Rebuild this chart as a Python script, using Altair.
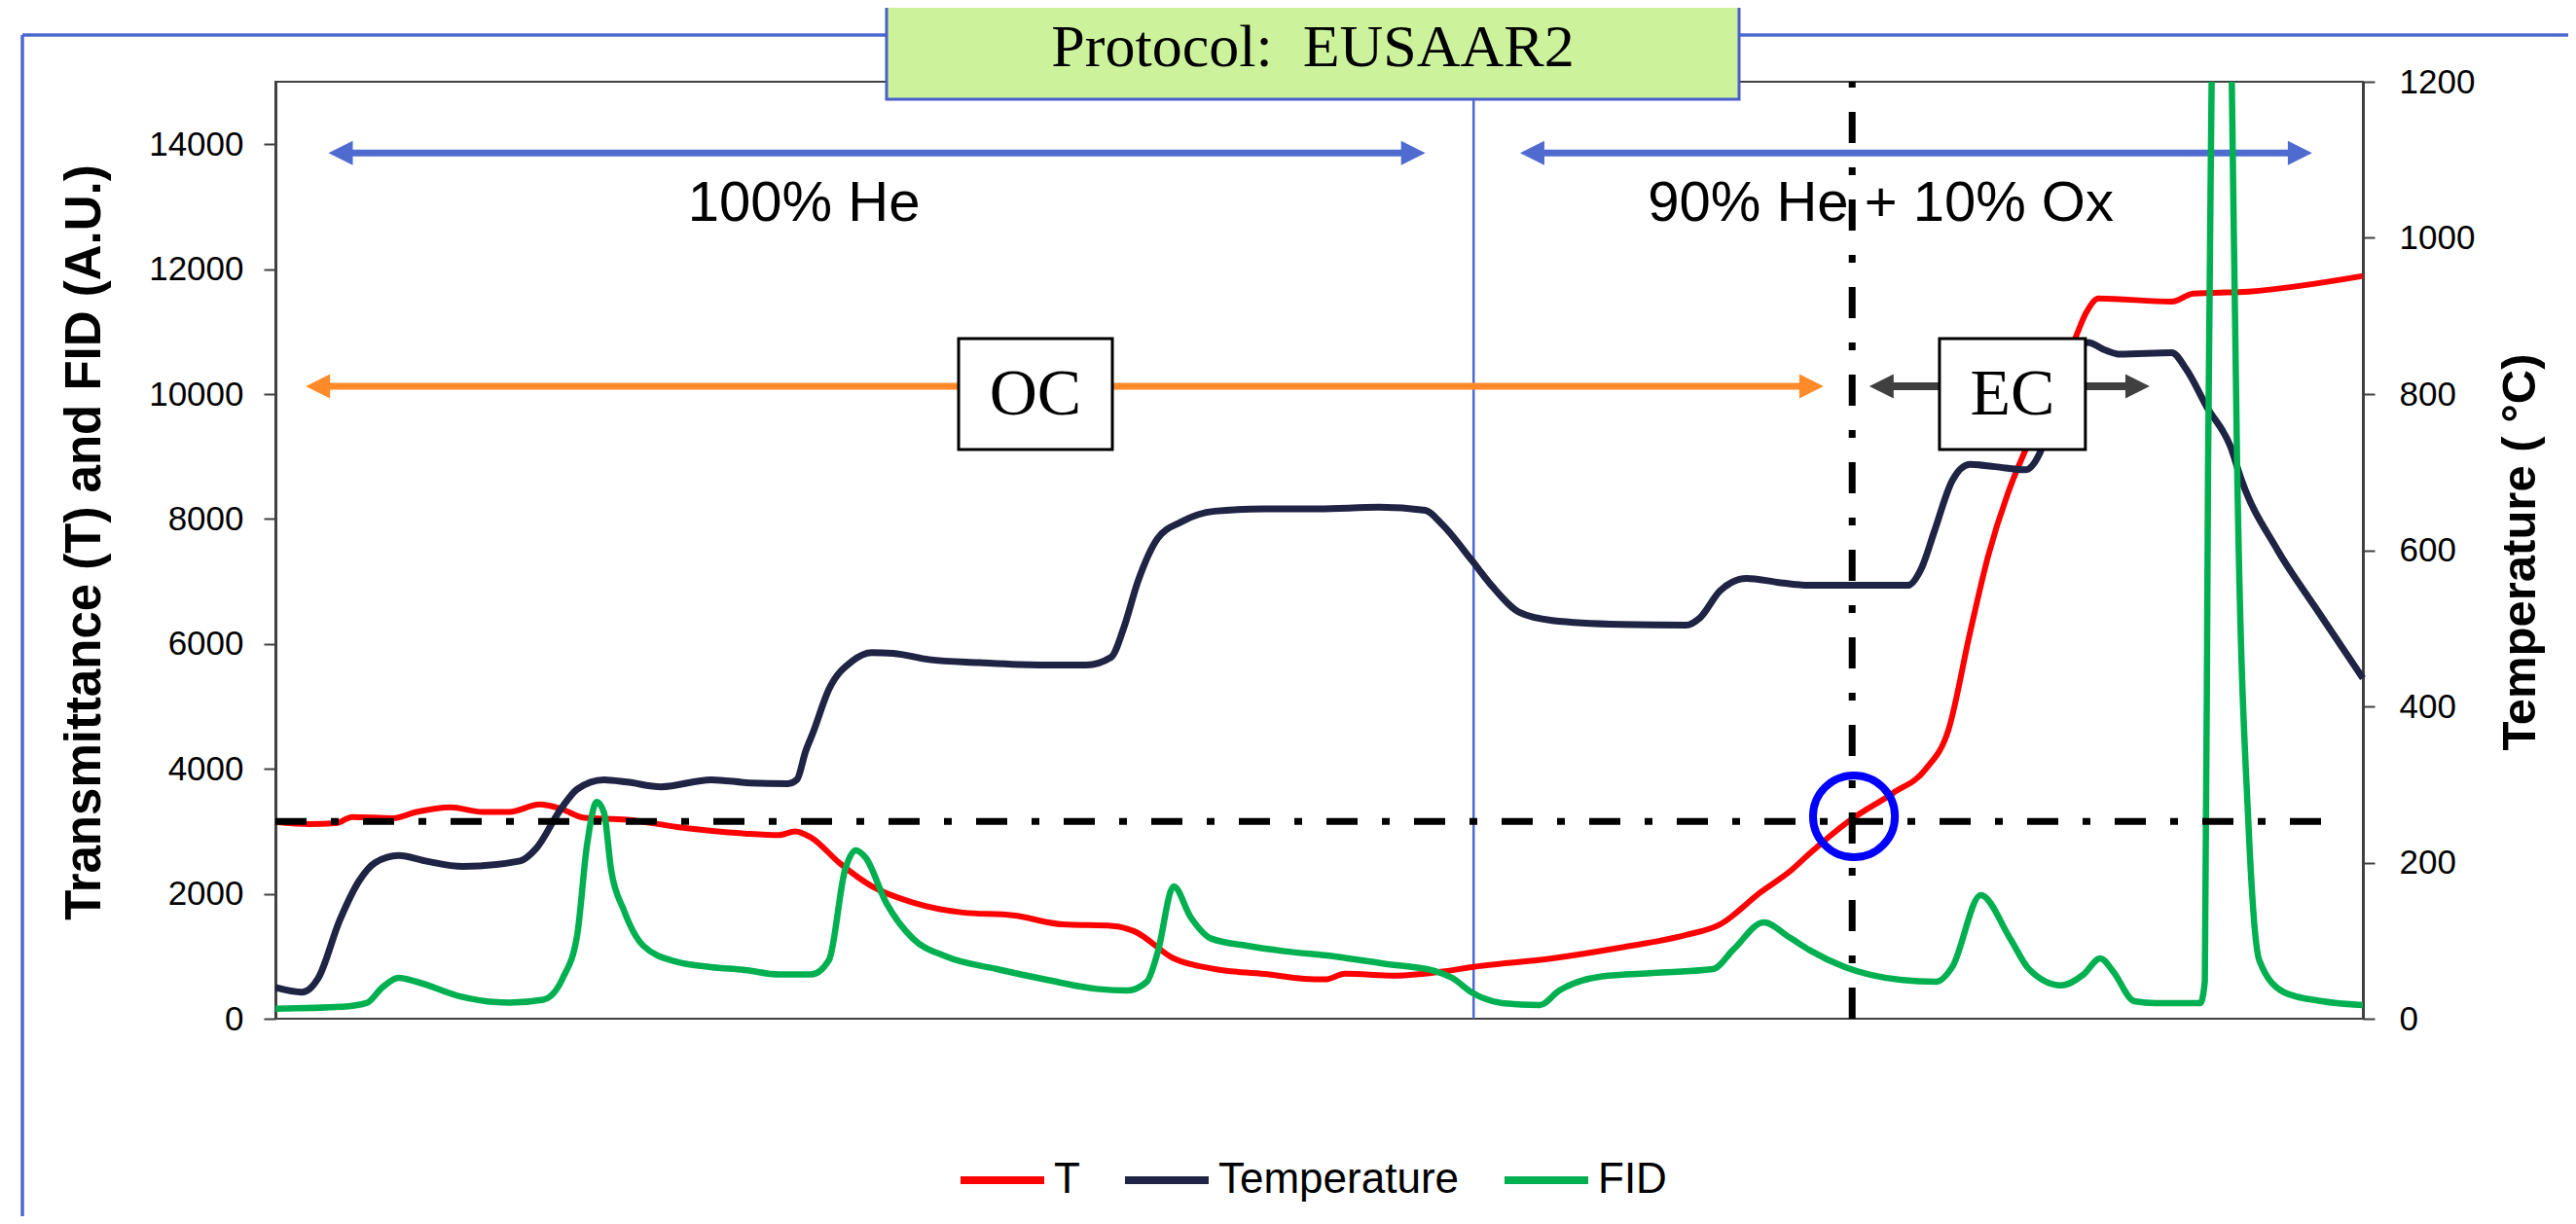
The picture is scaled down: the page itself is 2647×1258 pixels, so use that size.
import altair as alt
import pandas as pd

# ---------------- data ----------------
t_time = [0, 19, 34, 43, 66, 79, 98, 116, 131, 148, 160, 173, 197, 225, 263, 282, 291, 300, 316, 334,
          357, 385, 413, 441, 469, 481, 503, 526, 554, 576, 588, 599, 627, 655, 670, 715, 753, 790, 809, 832,
          849, 859, 881, 906, 924, 937, 949, 959, 972, 980, 1008, 1014, 1021, 1062, 1074, 1105, 1169]
t_vals = [3150, 3115, 3130, 3230, 3210, 3310, 3385, 3310, 3310, 3430, 3360, 3215, 3185, 3070, 2965, 2940, 3000, 2900, 2490, 2120,
          1860, 1700, 1655, 1510, 1485, 1400, 965, 795, 716, 640, 630, 720, 690, 760, 826, 966, 1137, 1340, 1510, 2030,
          2380, 2640, 3160, 3614, 3990, 4630, 6180, 7390, 8550, 9100, 10900, 11300, 11530, 11480, 11610, 11640, 11890]

temp_time = [0, 15, 24, 36, 47, 56, 69, 84, 105, 137, 146, 160, 169, 184, 197, 216, 244, 266, 287, 292,
             297, 301, 310, 323, 334, 346, 366, 394, 428, 454, 468, 475, 483, 494, 507, 526, 554, 584, 618, 644,
             653, 670, 681, 697, 715, 753, 790, 798, 809, 824, 841, 859, 881, 914, 922, 929, 939, 949, 963, 980,
             988, 1000, 1010, 1015, 1025, 1033, 1062, 1070, 1082, 1095, 1101, 1121, 1142, 1169]
temp_vals = [40, 34, 52, 126, 177, 200, 209, 202, 195, 202, 218, 269, 294, 306, 303, 297, 306, 302, 301, 306,
             343, 366, 422, 458, 469, 468, 460, 456, 453, 453, 463, 500, 560, 615, 636, 650, 653, 653, 655, 651,
             634, 587, 555, 520, 510, 505, 504, 514, 548, 564, 559, 555, 555, 555, 578, 624, 689, 710, 707, 703,
             724, 820, 865, 866, 856, 851, 853, 832, 782, 732, 690, 601, 528, 436]

fid_time = [0, 37, 51, 60, 69, 79, 103, 131, 150, 161, 169, 174.5, 180, 184, 188, 195, 206, 225, 244, 263,
            282, 300, 310, 319, 325, 330.5, 342, 357, 375.5, 404, 432, 460, 477, 488, 494, 503, 512.5, 524, 544, 565,
            593, 621, 649.5, 659, 670, 687, 708, 719, 743, 771.5, 805, 816.6, 833.5, 848, 859, 879, 910, 930, 939, 955,
            971.5, 982, 1000, 1012.5, 1022, 1029, 1041, 1053, 1078, 1080.5, 1082.3, 1084.3, 1089, 1095.6, 1098.6, 1105,
            1111, 1125, 1146, 1169]
fid_vals = [160, 190, 250, 505, 654, 592, 361, 257, 304, 654, 1340, 2780, 3470, 3300, 2383, 1745, 1168, 908, 826, 779,
            707, 707, 938, 2383, 2695, 2579, 1860, 1283, 997, 794, 623, 477, 452, 592, 1053, 2118, 1628, 1283, 1168, 1081,
            997, 880, 763, 654, 421, 249, 218, 452, 678, 732, 794, 1110, 1542, 1300, 1100, 826, 623, 592, 826, 1978,
            1283, 794, 534, 707, 966, 763, 280, 249, 249, 600, 8830, 15000, 28900, 15000, 8830, 3068,
            935, 421, 280, 218]

x_ticks = [0, 100, 200, 300, 400, 500, 600, 700, 800, 900, 1000, 1100]
y_left_ticks = [0, 2000, 4000, 6000, 8000, 10000, 12000, 14000]
y_right_ticks = [0, 200, 400, 600, 800, 1000, 1200]

series_names = ["T", "Temperature", "FID"]
series_colors = ["#ff0000", "#1f2444", "#00b050"]

# annotations (data units)
gas_labels = ["100% He", "90% He + 10% Ox"]
gas_label_time = [296, 899]
gas_label_level = [13045]
gas_arrow_from = [29.7, 697]
gas_arrow_to = [644, 1140.6]
gas_arrow_level = [13860]
oc_arrow = [17, 867]
ec_arrow = [892.6, 1049.6]
carbon_arrow_level = [10125]
box_labels = ["OC", "EC"]
box_from = [382.6, 931.9]
box_to = [468.7, 1013.6]
box_center = [425.6, 972.8]
box_low, box_high, box_mid = [9112], [10888], [9980]
split_level = [3160]
split_end = [1159]
split_time = [883]
split_point = [884, 3240]
gas_switch_time = [671]
protocol_label = ["Protocol:\u00a0 EUSAAR2"]

# ---------------- tables ----------------
t_df = pd.DataFrame({"time": t_time, "value": t_vals, "series": "T"})
temp_df = pd.DataFrame({"time": temp_time, "value": temp_vals, "series": "Temperature"})
fid_df = pd.DataFrame({"time": fid_time, "value": fid_vals, "series": "FID"})

gas_arrows = pd.DataFrame({"start": gas_arrow_from, "end": gas_arrow_to, "level": gas_arrow_level * 2})
oc_df = pd.DataFrame({"start": [oc_arrow[0]], "end": [oc_arrow[1]], "level": carbon_arrow_level})
ec_df = pd.DataFrame({"start": [ec_arrow[0]], "end": [ec_arrow[1]], "level": carbon_arrow_level})
gas_text = pd.DataFrame({"time": gas_label_time, "level": gas_label_level * 2, "label": gas_labels})
boxes = pd.DataFrame({"start": box_from, "end": box_to, "low": box_low * 2, "high": box_high * 2,
                      "mid": box_mid * 2, "center": box_center, "label": box_labels})
hline = pd.DataFrame({"start": [0], "end": split_end, "level": split_level})
vline = pd.DataFrame({"time": split_time, "low": [0], "high": [15000]})
circle = pd.DataFrame({"time": [split_point[0]], "level": [split_point[1]]})
switch = pd.DataFrame({"time": gas_switch_time, "low": [0], "high": [15000]})
proto = pd.DataFrame({"label": protocol_label})

# ---------------- scales / axes ----------------
XS = alt.Scale(domain=[0, 1169], nice=False, zero=False)
YL = alt.Scale(domain=[0, 15000], nice=False, zero=False)
YR = alt.Scale(domain=[0, 1200], nice=False, zero=False)

LABEL_FONT = "Liberation Sans"
axis_common = dict(labelFont=LABEL_FONT, labelFontSize=35, labelColor="black", format="d",
                   tickSize=12, tickWidth=2, tickColor="#404040",
                   domainColor="#404040", domainWidth=3, grid=False,
                   titleFont=LABEL_FONT, titleFontWeight="bold", titleColor="black",
                   labelFlush=False, labelOverlap=False)

x_axis = alt.Axis(values=x_ticks, title="Time (sec)", titleFontSize=48, titleBaseline="middle",
                  titleY=111, labelPadding=19, **axis_common)
yl_axis = alt.Axis(values=y_left_ticks, title="Transmittance (T) and FID (A.U.)", orient="left",
                   titleFontSize=51, titleAngle=270, titleX=-196, titleY=473, titleAlign="center",
                   titleBaseline="middle", labelPadding=21, **axis_common)
yr_axis = alt.Axis(values=y_right_ticks, title="Temperature ( °C)", orient="right",
                   titleFontSize=49, titleAngle=270, titleX=161, titleY=483, titleAlign="center",
                   titleBaseline="middle", labelPadding=25, **axis_common)

legend = alt.Legend(orient="none", legendX=700, legendY=1082, direction="horizontal", title=None,
                    symbolType="stroke", symbolStrokeWidth=8, symbolSize=7396,
                    labelFont=LABEL_FONT, labelFontSize=44, labelColor="black", labelOffset=6,
                    labelLimit=0, columnPadding=30, padding=0)
color = alt.Color("series:N", scale=alt.Scale(domain=series_names, range=series_colors), legend=legend)


def xnone(field):
    return alt.X(f"{field}:Q", scale=XS, axis=None)


def ynone(field):
    return alt.Y(f"{field}:Q", scale=YL, axis=None)


RIGHT_HEAD = "M0,0L-2,-1L-2,1Z"
LEFT_HEAD = "M0,0L2,-1L2,1Z"


def arrow(df, col, width):
    body = alt.Chart(df).mark_rule(color=col, strokeWidth=width, xOffset=14, x2Offset=-14).encode(
        x=xnone("start"), x2="end:Q", y=ynone("level"))
    lh = alt.Chart(df).mark_point(shape=LEFT_HEAD, size=625, filled=True, color=col, opacity=1,
                                  strokeWidth=0).encode(x=xnone("start"), y=ynone("level"))
    rh = alt.Chart(df).mark_point(shape=RIGHT_HEAD, size=625, filled=True, color=col, opacity=1,
                                  strokeWidth=0).encode(x=xnone("end"), y=ynone("level"))
    return [body, lh, rh]


# ---------------- layers ----------------
switch_layer = alt.Chart(switch).mark_rule(color="#4f6bd0", strokeWidth=2.5).encode(
    x=xnone("time"), y=ynone("low"), y2="high:Q")

t_layer = alt.Chart(t_df).mark_line(strokeWidth=6, strokeJoin="round", interpolate="monotone").encode(
    x=alt.X("time:Q", scale=XS, axis=x_axis),
    y=alt.Y("value:Q", scale=YL, axis=yl_axis),
    color=color)

temp_layer = alt.Chart(temp_df).mark_line(strokeWidth=7, strokeJoin="round", interpolate="monotone").encode(
    x=xnone("time"),
    y=alt.Y("value:Q", scale=YR, axis=yr_axis),
    color=color)

fid_layer = alt.Chart(fid_df).mark_line(strokeWidth=6.5, strokeJoin="round", clip=True,
                                        interpolate="monotone").encode(
    x=xnone("time"), y=ynone("value"), color=color)

dash = [32, 25, 8, 25]
hline_layer = alt.Chart(hline).mark_rule(color="black", strokeWidth=7, strokeDash=dash).encode(
    x=xnone("start"), x2="end:Q", y=ynone("level"))
vline_layer = alt.Chart(vline).mark_rule(color="black", strokeWidth=7, strokeDash=dash).encode(
    x=xnone("time"), y=ynone("low"), y2="high:Q")

box_layer = alt.Chart(boxes).mark_rect(fill="white", stroke="black", strokeWidth=3).encode(
    x=xnone("start"), x2="end:Q", y=ynone("low"), y2="high:Q")
box_text = alt.Chart(boxes).mark_text(font="Liberation Serif", fontSize=68, color="black",
                                      align="center", baseline="middle").encode(
    x=xnone("center"), y=ynone("mid"), text="label:N")

gas_text_layer = alt.Chart(gas_text).mark_text(font=LABEL_FONT, fontSize=58, color="black",
                                               align="center", baseline="middle").encode(
    x=xnone("time"), y=ynone("level"), text="label:N")

circle_layer = alt.Chart(circle).mark_point(shape="circle", size=7088, filled=False, strokeWidth=8,
                                            color="#0000ff", opacity=1).encode(
    x=xnone("time"), y=ynone("level"))

frame_top = alt.Chart(proto).mark_rule(color="#4a68d0", strokeWidth=3.5).encode(
    x=alt.value(-260), x2=alt.value(2400), y=alt.value(-48))
frame_left = alt.Chart(proto).mark_rule(color="#4a68d0", strokeWidth=3.5).encode(
    x=alt.value(-260), y=alt.value(-48), y2=alt.value(1250))

proto_box = alt.Chart(proto).mark_rect(fill="#ccf29c", stroke="#4a5fcc", strokeWidth=3).encode(
    x=alt.value(628), x2=alt.value(1504), y=alt.value(-100), y2=alt.value(18))
proto_text = alt.Chart(proto).mark_text(font="Liberation Serif", fontSize=62, color="black",
                                        align="center", baseline="alphabetic").encode(
    x=alt.value(1066), y=alt.value(-16), text="label:N")

layers = [switch_layer]
layers += arrow(gas_arrows, "#4f6bd0", 7)
layers += arrow(oc_df, "#ff8a2a", 7)
layers += arrow(ec_df, "#404040", 8)
layers += [t_layer, temp_layer, fid_layer, hline_layer, vline_layer, box_layer, box_text,
           gas_text_layer, circle_layer, frame_top, frame_left, proto_box, proto_text]

chart = alt.layer(*layers).resolve_scale(y="independent").properties(
    width=2145, height=963,
    padding={"left": 275, "top": 76, "right": 211, "bottom": 203},
    autosize=alt.AutoSizeParams(type="none"),
    background="white",
).configure_view(stroke="#404040", strokeWidth=2)

chart.save("out.html", embed_options={"renderer": "svg", "actions": False})
